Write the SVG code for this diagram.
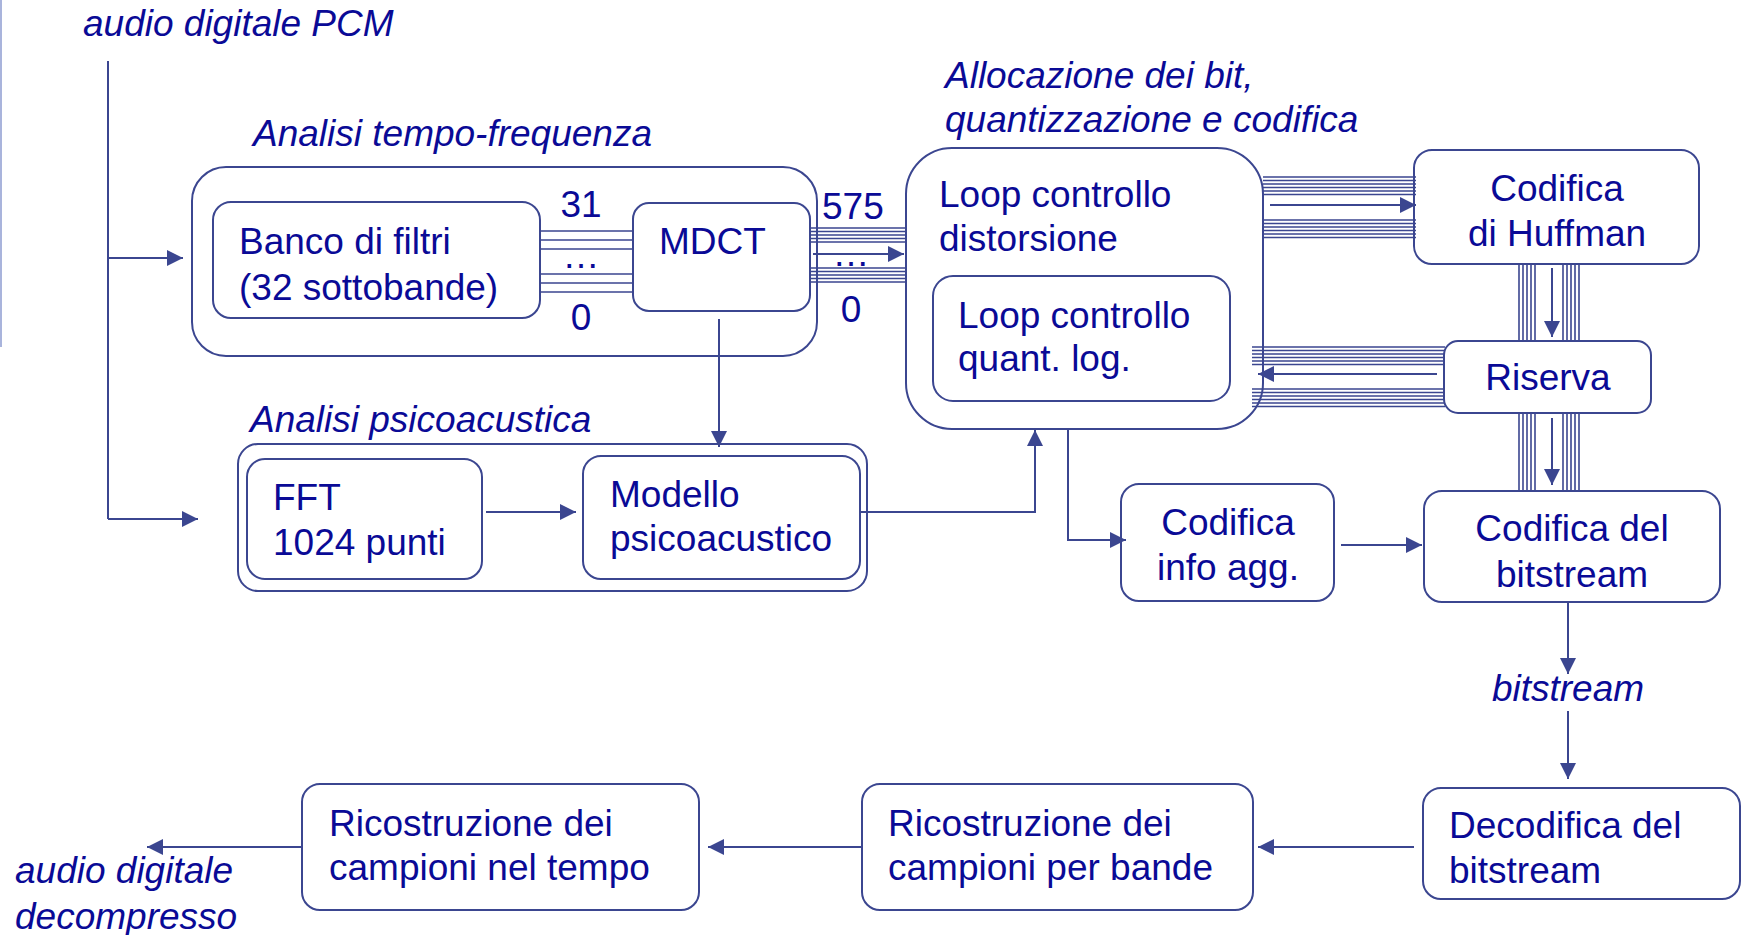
<svg xmlns="http://www.w3.org/2000/svg" width="1742" height="935" viewBox="0 0 1742 935">
<defs>
<style>
.t{font-family:"Liberation Sans",Arial,sans-serif;font-size:37px;fill:#0a0a96}
.i{font-style:italic}
.m{text-anchor:middle}
.box{fill:none;stroke:#3b4690;stroke-width:2}
.c{fill:none;stroke:#3b4690;stroke-width:2}
.b{fill:none;stroke:#3b4690;stroke-width:1.6}
.a{marker-end:url(#arr)}
</style>
<marker id="arr" viewBox="0 0 16 16" refX="16" refY="8" markerWidth="16" markerHeight="16" orient="auto" markerUnits="userSpaceOnUse">
<path d="M0,0 L16,8 L0,16 z" fill="#3b4690"/>
</marker>
</defs>
<rect width="1742" height="935" fill="#ffffff"/>
<line x1="1" y1="0" x2="1" y2="347" stroke="#8c9bd0" stroke-width="1.5"/>

<g id="labels">
<text class="t i" x="83" y="36">audio digitale PCM</text>
<text class="t i" x="253" y="146">Analisi tempo-frequenza</text>
<text class="t i" x="945" y="88">Allocazione dei bit,</text>
<text class="t i" x="945" y="132">quantizzazione e codifica</text>
<text class="t i" x="250" y="432">Analisi psicoacustica</text>
<text class="t i m" x="1568" y="701">bitstream</text>
<text class="t i" x="15" y="883">audio digitale</text>
<text class="t i" x="15" y="929">decompresso</text>
<text class="t m" x="581" y="217">31</text>
<text class="t m" x="581" y="268">…</text>
<text class="t m" x="581" y="330">0</text>
<text class="t" x="822" y="219">575</text>
<text class="t m" x="851" y="266">…</text>
<text class="t m" x="851" y="322">0</text>
</g>

<g id="connectors">
<path class="c" d="M108,61 V519"/>
<path class="c a" d="M108,258 H183"/>
<path class="c a" d="M108,519 H198"/>
<g class="b">
<path d="M540,231 H633 M540,240 H633 M540,249 H633 M540,274 H633 M540,283 H633 M540,292 H633"/>
<path d="M810,228 H906 M810,231.5 H906 M810,235 H906 M810,238.5 H906 M810,242 H906 M810,268 H906 M810,271.5 H906 M810,275 H906 M810,278.5 H906 M810,282 H906"/>
<path d="M1263,177 H1416 M1263,180.5 H1416 M1263,184 H1416 M1263,187.5 H1416 M1263,191 H1416 M1263,194.5 H1416 M1263,220 H1416 M1263,223.5 H1416 M1263,227 H1416 M1263,230.5 H1416 M1263,234 H1416 M1263,237.5 H1416"/>
<path d="M1519,264 V341 M1523,264 V341 M1527,264 V341 M1531,264 V341 M1535,264 V341 M1563,264 V341 M1567,264 V341 M1571,264 V341 M1575,264 V341 M1579,264 V341"/>
<path d="M1252,347 H1445 M1252,350.5 H1445 M1252,354 H1445 M1252,357.5 H1445 M1252,361 H1445 M1252,364.5 H1445 M1252,389 H1445 M1252,392.5 H1445 M1252,396 H1445 M1252,399.5 H1445 M1252,403 H1445 M1252,406.5 H1445"/>
<path d="M1519,413 V491 M1523,413 V491 M1527,413 V491 M1531,413 V491 M1535,413 V491 M1563,413 V491 M1567,413 V491 M1571,413 V491 M1575,413 V491 M1579,413 V491"/>
</g>
<path class="c a" d="M813,254 H904"/>
<path class="c a" d="M1270,205 H1416"/>
<path class="c a" d="M1552,268 V337"/>
<path class="c a" d="M1437,374 H1258"/>
<path class="c a" d="M1552,418 V485"/>
<path class="c a" d="M719,319 V447"/>
<path class="c a" d="M486,512 H576"/>
<path class="c a" d="M861,512 H1035 V430"/>
<path class="c a" d="M1068,429 V540 H1126"/>
<path class="c a" d="M1341,545 H1422"/>
<path class="c a" d="M1568,602 V674"/>
<path class="c a" d="M1568,711 V779"/>
<path class="c a" d="M1414,847 H1258"/>
<path class="c a" d="M862,847 H708"/>
<path class="c a" d="M302,847 H147"/>
</g>

<g id="analisi-tf"><rect class="box" x="192" y="167" width="625" height="189" rx="34"/></g>
<g id="banco"><rect class="box" x="213" y="202" width="327" height="116" rx="18"/>
<text class="t" x="239" y="254">Banco di filtri</text><text class="t" x="239" y="300">(32 sottobande)</text></g>
<g id="mdct"><rect class="box" x="633" y="203" width="177" height="108" rx="16"/>
<text class="t" x="659" y="254">MDCT</text></g>

<g id="loop-dist"><rect class="box" x="906" y="148" width="357" height="281" rx="46"/>
<text class="t" x="939" y="207">Loop controllo</text><text class="t" x="939" y="251">distorsione</text></g>
<g id="loop-quant"><rect class="box" x="933" y="276" width="297" height="125" rx="20"/>
<text class="t" x="958" y="328">Loop controllo</text><text class="t" x="958" y="371">quant. log.</text></g>

<g id="huffman"><rect class="box" x="1414" y="150" width="285" height="114" rx="18"/>
<text class="t m" x="1557" y="201">Codifica</text><text class="t m" x="1557" y="246">di Huffman</text></g>
<g id="riserva"><rect class="box" x="1444" y="341" width="207" height="72" rx="14"/>
<text class="t m" x="1548" y="390">Riserva</text></g>

<g id="analisi-psico"><rect class="box" x="238" y="444" width="629" height="147" rx="20"/></g>
<g id="fft"><rect class="box" x="247" y="459" width="235" height="120" rx="18"/>
<text class="t" x="273" y="510">FFT</text><text class="t" x="273" y="555">1024 punti</text></g>
<g id="modello"><rect class="box" x="583" y="456" width="277" height="123" rx="18"/>
<text class="t" x="610" y="507">Modello</text><text class="t" x="610" y="551">psicoacustico</text></g>

<g id="info-agg"><rect class="box" x="1121" y="484" width="213" height="117" rx="18"/>
<text class="t m" x="1228" y="535">Codifica</text><text class="t m" x="1228" y="580">info agg.</text></g>
<g id="cod-bitstream"><rect class="box" x="1424" y="491" width="296" height="111" rx="18"/>
<text class="t m" x="1572" y="541">Codifica del</text><text class="t m" x="1572" y="587">bitstream</text></g>

<g id="decodifica"><rect class="box" x="1423" y="788" width="317" height="111" rx="18"/>
<text class="t" x="1449" y="838">Decodifica del</text><text class="t" x="1449" y="883">bitstream</text></g>
<g id="ric-bande"><rect class="box" x="862" y="784" width="391" height="126" rx="18"/>
<text class="t" x="888" y="836">Ricostruzione dei</text><text class="t" x="888" y="880">campioni per bande</text></g>
<g id="ric-tempo"><rect class="box" x="302" y="784" width="397" height="126" rx="18"/>
<text class="t" x="329" y="836">Ricostruzione dei</text><text class="t" x="329" y="880">campioni nel tempo</text></g>
</svg>
